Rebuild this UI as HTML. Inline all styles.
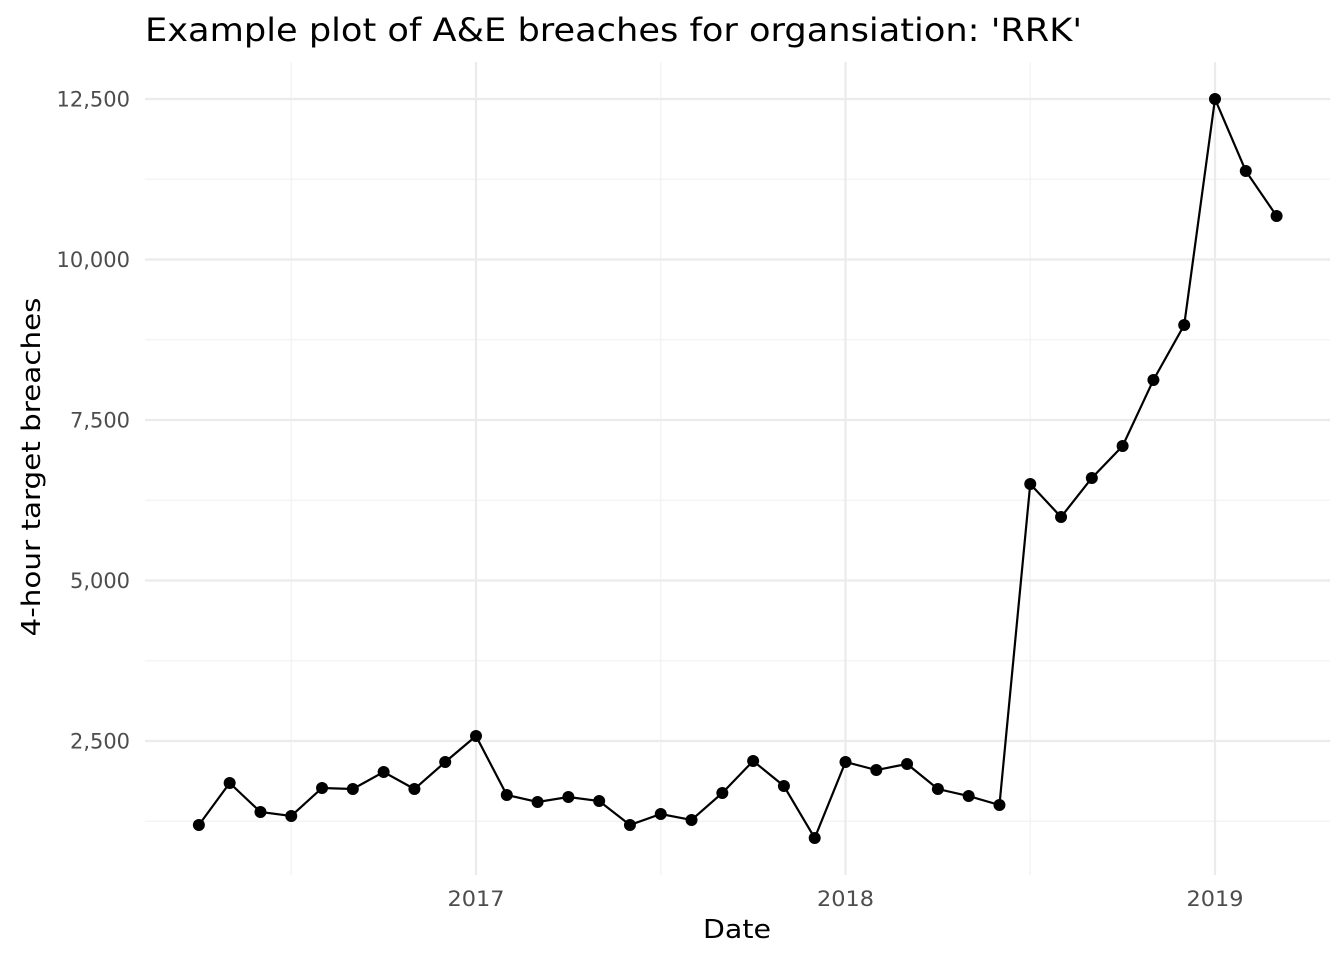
<!DOCTYPE html>
<html><head><meta charset="utf-8"><style>
body{margin:0;background:#fff;}
svg{display:block;font-family:"DejaVu Sans","Liberation Sans",sans-serif;}
</style></head><body>
<svg id="chart" width="1344" height="960">
<text x="145" y="41" font-size="32" textLength="937" lengthAdjust="spacingAndGlyphs" fill="#000">Example plot of A&amp;E breaches for organsiation: 'RRK'</text>
<g id="grid"></g>
<g id="axes"></g>
<g id="series"></g>
<text x="737" y="938" font-size="26" textLength="68" lengthAdjust="spacingAndGlyphs" text-anchor="middle" fill="#000">Date</text>
<text transform="translate(40,467) rotate(-90)" font-size="26" textLength="339" lengthAdjust="spacingAndGlyphs" text-anchor="middle" fill="#000">4-hour target breaches</text>
</svg>
<script>
const dates=["2016-04","2016-05","2016-06","2016-07","2016-08","2016-09","2016-10","2016-11","2016-12","2017-01","2017-02","2017-03","2017-04","2017-05","2017-06","2017-07","2017-08","2017-09","2017-10","2017-11","2017-12","2018-01","2018-02","2018-03","2018-04","2018-05","2018-06","2018-07","2018-08","2018-09","2018-10","2018-11","2018-12","2019-01","2019-02","2019-03"];
const breaches=[1192,1846,1394,1332,1768,1752,2017,1752,2173,2578,1659,1550,1628,1565,1192,1363,1270,1690,2189,1799,989,2173,2048,2142,1752,1643,1503,6503,5989,6597,7095,8123,8980,12500,11379,10678];
const yTicks=[2500,5000,7500,10000,12500];
const yTickLabels=["2,500","5,000","7,500","10,000","12,500"];
const yMinor=[1250,3750,6250,8750,11250];
const xTicks=["2017-01","2018-01","2019-01"];
const xTickLabels=["2017","2018","2019"];
const xMinor=["2016-07","2017-07","2018-07"];
const NS="http://www.w3.org/2000/svg";
function mIdx(s){const p=s.split("-");return (+p[0]-2017)*12+(+p[1]-1);}
function xs(s){return 476+mIdx(s)*369.5/12;}
function ys(v){return 741-(v-2500)*0.0642;}
function mk(parent,tag,attrs){const e=document.createElementNS(NS,tag);for(const k in attrs)e.setAttribute(k,attrs[k]);document.getElementById(parent).appendChild(e);return e;}
const L=145,R=1330,T=62,B=875;
yMinor.forEach(v=>{const e=mk("grid","line",{x1:L,x2:R,y1:ys(v),y2:ys(v),stroke:"#f2f2f2","stroke-width":1.2});

});
xMinor.forEach(d=>{const e=mk("grid","line",{x1:xs(d),x2:xs(d),y1:T,y2:B,stroke:"#f2f2f2","stroke-width":1.2});

});
yTicks.forEach((v,i)=>{const e=mk("grid","line",{x1:L,x2:R,y1:ys(v),y2:ys(v),stroke:"#ebebeb","stroke-width":2.2});


const lbl=yTickLabels[i];
const t=mk("axes","text",{x:130,y:ys(v)+7.5,"font-size":21,"text-anchor":"end",fill:"#4d4d4d",textLength:(lbl.length-1)*13.5+6,lengthAdjust:"spacingAndGlyphs"});t.textContent=lbl;

});
xTicks.forEach((d,i)=>{const e=mk("grid","line",{x1:xs(d),x2:xs(d),y1:T,y2:B,stroke:"#ebebeb","stroke-width":2.2});


const t=mk("axes","text",{x:xs(d),y:906,"font-size":21,"text-anchor":"middle",fill:"#4d4d4d",textLength:57,lengthAdjust:"spacingAndGlyphs"});t.textContent=xTickLabels[i];

});
const pts=dates.map((d,i)=>xs(d)+","+ys(breaches[i])).join(" ");
const line=mk("series","polyline",{points:pts,fill:"none",stroke:"#000","stroke-width":2.2});


dates.forEach((d,i)=>{const c=mk("series","circle",{cx:xs(d),cy:ys(breaches[i]),r:6,fill:"#000"});

});
</script>
</body></html>
